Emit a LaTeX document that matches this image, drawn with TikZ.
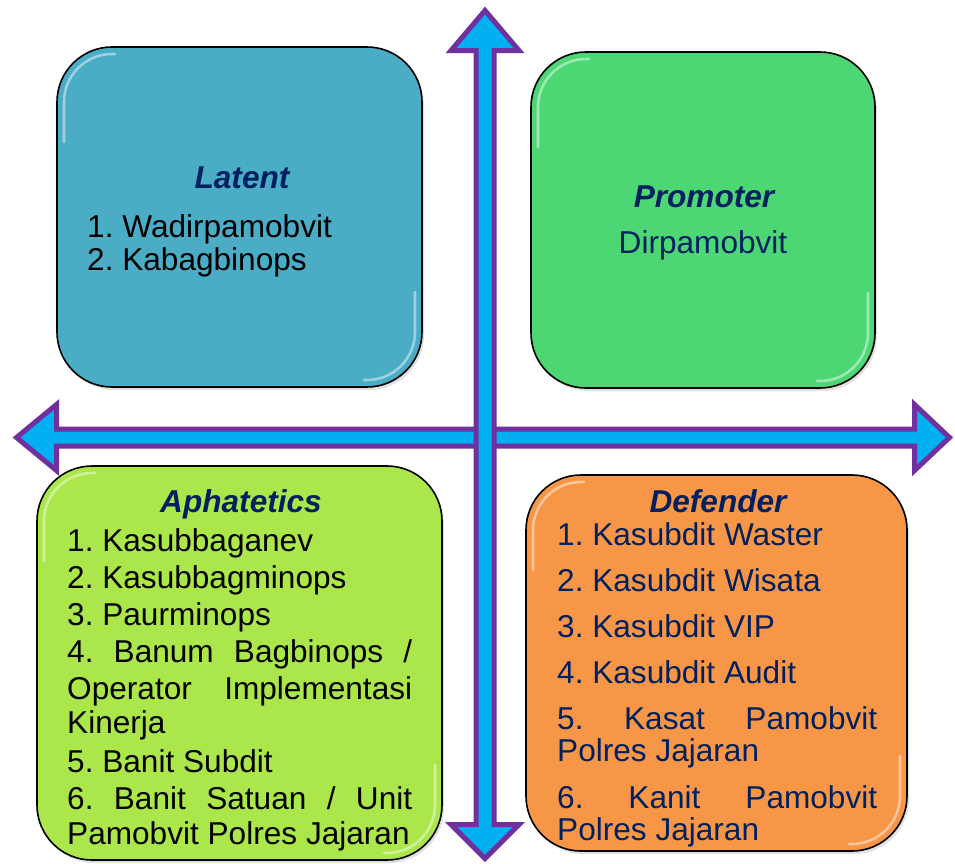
\documentclass[tikz,border=0pt]{standalone}
\usepackage{fontspec}
\setmainfont{Liberation Sans}
\frenchspacing
\definecolor{navyink}{HTML}{002060}
\definecolor{latentfill}{HTML}{4BACC6}
\definecolor{promoterfill}{HTML}{4CD774}
\definecolor{apathfill}{HTML}{ABE74A}
\definecolor{defenderfill}{HTML}{F79646}
\definecolor{arrowfill}{HTML}{00B0F0}
\definecolor{arrowedge}{HTML}{7030A0}
\tikzset{
  quad/.style={draw=black, line width=1.6pt, rounded corners=55pt, inner sep=0pt},
  shade/.style={fill=black, opacity=0.12, rounded corners=55pt},
  gloss/.style={draw=white, opacity=0.45, line width=2.6pt, rounded corners=48pt, line cap=round},
  headline/.style={font=\fontsize{31.6}{37}\selectfont\bfseries\itshape, text=navyink, inner sep=0pt, anchor=base},
  item/.style={font=\fontsize{31.6}{37}\selectfont, inner sep=0pt, anchor=base west},
  axisarrow/.style={fill=arrowfill, draw=arrowedge, line width=5pt, line join=miter},
}
% soft shadow, box, and glossy rim highlights for one quadrant
\newcommand\quadrant[6]{%
  \fill[shade] ({#1+2},{#2+3}) rectangle ({#3+2},{#4+3});
  \node[quad, fill=#5, minimum width={#3-#1}, minimum height={#4-#2}]
    (#6) at ({(#1+#3)/2},{(#2+#4)/2}) {};
  \draw[gloss] ({#1+7},{#2+95}) -- ({#1+7},{#2+7}) -- ({#1+58},{#2+7});
  \draw[gloss] ({#3-7},{#4-95}) -- ({#3-7},{#4-7}) -- ({#3-58},{#4-7});
}
\begin{document}
\begin{tikzpicture}[x=1pt, y=-1pt]
\useasboundingbox (0,0) rectangle (955,863);

% four quadrants
\quadrant{57}{47}{422}{387}{latentfill}{latent}
\quadrant{531}{52}{875}{388}{promoterfill}{promoter}
\quadrant{37}{466}{442}{860}{apathfill}{apath}
\quadrant{526}{475}{907}{851}{defenderfill}{defender}

% horizontal double arrow
\draw[axisarrow] (16.5,437.5) -- (56.5,404.5) -- (56.5,429) -- (914.5,429)
  -- (914.5,404.5) -- (949.5,437.5) -- (914.5,470.5) -- (914.5,446)
  -- (56.5,446) -- (56.5,470.5) -- cycle;
% vertical double arrow
\draw[axisarrow] (485,10.5) -- (519,50.5) -- (494,50.5) -- (494,824.5)
  -- (519,824.5) -- (485,858.5) -- (451,824.5) -- (476,824.5)
  -- (476,50.5) -- (451,50.5) -- cycle;

% Latent
\node[headline] (latentT) at (242,188) {Latent};
\node[item] (latent1) at (87,237) {1. Wadirpamobvit};
\node[item] (latent2) at (87,270) {2. Kabagbinops};

% Promoter
\node[headline] (promoterT) at (704,207) {Promoter};
\node[item, anchor=base, text=navyink] (promoter1) at (703,253) {Dirpamobvit};

% Aphatetics
\node[headline] (apathT) at (241,512) {Aphatetics};
\node[item] (ap1) at (67,551) {1. Kasubbaganev};
\node[item] (ap2) at (67,588) {2. Kasubbagminops};
\node[item] (ap3) at (67,625) {3. Paurminops};
\node[item] (ap4a) at (67,662) {\makebox[345pt][s]{4. Banum Bagbinops /}};
\node[item] (ap4b) at (67,699) {\makebox[345pt][s]{Operator Implementasi}};
\node[item] (ap4c) at (67,733) {Kinerja};
\node[item] (ap5) at (67,772) {5. Banit Subdit};
\node[item] (ap6a) at (67,809) {\makebox[345pt][s]{6. Banit Satuan / Unit}};
\node[item] (ap6b) at (67,844) {Pamobvit Polres Jajaran};

% Defender
\node[headline] (defT) at (718,512) {Defender};
\begin{scope}[every node/.append style={text=navyink}]
\node[item] (d1) at (557,545) {1. Kasubdit Waster};
\node[item] (d2) at (557,591) {2. Kasubdit Wisata};
\node[item] (d3) at (557,637) {3. Kasubdit VIP};
\node[item] (d4) at (557,683) {4. Kasubdit Audit};
\node[item] (d5a) at (557,729) {\makebox[320pt][s]{5. Kasat Pamobvit}};
\node[item] (d5b) at (557,761) {Polres Jajaran};
\node[item] (d6a) at (557,808) {\makebox[320pt][s]{6. Kanit Pamobvit}};
\node[item] (d6b) at (557,840) {Polres Jajaran};
\end{scope}
\end{tikzpicture}
\end{document}
